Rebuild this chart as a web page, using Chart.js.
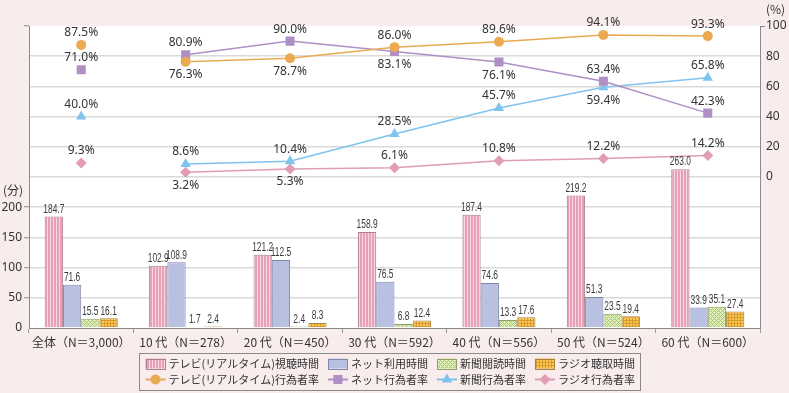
<!DOCTYPE html>
<html>
<head>
<meta charset="utf-8">
<script src="https://cdn.jsdelivr.net/npm/chart.js@4.4.0/dist/chart.umd.min.js"></script>
<style>
    html, body { margin: 0; padding: 0; background: #f8eced; }
</style>
</head>
<body>
<canvas id="media_chart" width="789" height="393"></canvas>
<script>
// 항목
var categories = ['全体（N＝3,000）', '10 代（N＝278）', '20 代（N＝450）', '30 代（N＝592）', '40 代（N＝556）', '50 代（N＝524）', '60 代（N＝600）'];

// 평균 이용시간 (분)
var tvTime = [184.7, 102.9, 121.2, 158.9, 187.4, 219.2, 263.0];
var netTime = [71.6, 108.9, 112.5, 76.5, 74.6, 51.3, 33.9];
var paperTime = [15.5, 1.7, 2.4, 6.8, 13.3, 23.5, 35.1];
var radioTime = [16.1, 2.4, 8.3, 12.4, 17.6, 19.4, 27.4];

// 행위자율 (%)
var tvRate = [87.5, 76.3, 78.7, 86.0, 89.6, 94.1, 93.3];
var netRate = [71.0, 80.9, 90.0, 83.1, 76.1, 63.4, 42.3];
var paperRate = [40.0, 8.6, 10.4, 28.5, 45.7, 59.4, 65.8];
var radioRate = [9.3, 3.2, 5.3, 6.1, 10.8, 12.2, 14.2];

// 눈금
var minuteTicks = [0, 50, 100, 150, 200];
var rateTicks = [0, 20, 40, 60, 80, 100];

var numFont = "'Noto Sans', 'Noto Sans CJK JP', sans-serif";
var jpFont = "'Noto Sans CJK JP', sans-serif";

function makePattern(size, draw) {
    var c = document.createElement('canvas');
    c.width = size;
    c.height = size;
    var g = c.getContext('2d');
    draw(g, size);
    return g.createPattern(c, 'repeat');
}

var tvFill = makePattern(3, function (g) {
    g.fillStyle = '#e7a0b5';
    g.fillRect(0, 0, 3, 3);
    g.fillStyle = '#f7d8e1';
    g.fillRect(2, 0, 1, 3);
});
var netFill = '#b9c1e2';
var paperFill = makePattern(4, function (g) {
    g.fillStyle = '#e0efbd';
    g.fillRect(0, 0, 4, 4);
    g.fillStyle = '#a9c86c';
    g.fillRect(0, 0, 1, 1); g.fillRect(1, 1, 1, 1); g.fillRect(2, 2, 1, 1); g.fillRect(3, 3, 1, 1);
    g.fillRect(3, 1, 1, 1); g.fillRect(1, 3, 1, 1);
});
var radioFill = makePattern(3, function (g) {
    g.fillStyle = '#f5c954';
    g.fillRect(0, 0, 3, 3);
    g.fillStyle = '#d9992e';
    g.fillRect(2, 0, 1, 3);
    g.fillRect(0, 2, 3, 1);
});

// 전체 점은 선으로 잇지 않음
var hideFirst = function (ctx) {
    return ctx.p0DataIndex === 0 ? 'rgba(0,0,0,0)' : undefined;
};

function barSet(label, data, fill, border) {
    return {
        type: 'bar', label: label, data: data, yAxisID: 'yMin', order: 1,
        backgroundColor: fill, borderColor: border, borderWidth: 1,
        categoryPercentage: 0.7, barPercentage: 1.0
    };
}

function lineSet(label, data, color, style, radius, side) {
    return {
        type: 'line', label: label, data: data, yAxisID: 'yRate', order: 0,
        borderColor: color, backgroundColor: color, borderWidth: 1.5, tension: 0,
        pointStyle: style, pointRadius: radius, pointBorderWidth: 0, pointBackgroundColor: color,
        segment: { borderColor: hideFirst },
        labelSide: side
    };
}

var datasets = [
    barSet('テレビ(リアルタイム)視聴時間', tvTime, tvFill, '#a98290'),
    barSet('ネット利用時間', netTime, netFill, '#8088a8'),
    barSet('新聞閲読時間', paperTime, paperFill, '#8ea266'),
    barSet('ラジオ聴取時間', radioTime, radioFill, '#a88440'),
    lineSet('テレビ(リアルタイム)行為者率', tvRate, '#e9aa52', 'circle', 5, ['u', 'd', 'd', 'u', 'u', 'u', 'u']),
    lineSet('ネット行為者率', netRate, '#af90c5', 'rect', 6.4, ['u', 'u', 'u', 'd', 'd', 'u', 'u']),
    lineSet('新聞行為者率', paperRate, '#7fc3ef', 'triangle', 6, ['u', 'u', 'u', 'u', 'u', 'd', 'u']),
    lineSet('ラジオ行為者率', radioRate, '#e19db5', 'rectRot', 5.5, ['u', 'd', 'd', 'u', 'u', 'u', 'u'])
];

var background = {
    id: 'background',
    beforeDraw: function (chart) {
        var ctx = chart.ctx, a = chart.chartArea;
        ctx.save();
        ctx.fillStyle = '#f8eced';
        ctx.fillRect(0, 0, chart.width, chart.height);
        ctx.fillStyle = '#ffffff';
        ctx.fillRect(a.left, a.top, a.right - a.left, a.bottom - a.top);
        ctx.restore();
    }
};

var valueLabels = {
    id: 'valueLabels',
    afterDatasetsDraw: function (chart) {
        var ctx = chart.ctx;
        ctx.save();
        ctx.textAlign = 'center';
        chart.data.datasets.forEach(function (ds, i) {
            var meta = chart.getDatasetMeta(i);
            meta.data.forEach(function (el, j) {
                var v = ds.data[j];
                if (ds.type === 'bar') {
                    // 좁은 글꼴 흉내
                    ctx.save();
                    ctx.font = "12px 'Liberation Sans', sans-serif";
                    ctx.fillStyle = '#3a3a3a';
                    ctx.textBaseline = 'bottom';
                    ctx.translate(el.x, el.y - 1);
                    ctx.scale(0.7, 1);
                    ctx.fillText(v.toFixed(1), 0, 0);
                    ctx.restore();
                } else {
                    ctx.font = '12px ' + numFont;
                    ctx.fillStyle = '#333333';
                    ctx.textBaseline = 'middle';
                    var dy = ds.labelSide[j] === 'u' ? -12 : 13;
                    ctx.fillText(v.toFixed(1) + '%', el.x, el.y + dy);
                }
            });
        });
        ctx.restore();
    }
};

var axisTitles = {
    id: 'axisTitles',
    afterDraw: function (chart) {
        var ctx = chart.ctx, s = chart.scales;
        ctx.save();
        ctx.font = '12px ' + jpFont;
        ctx.fillStyle = '#333333';
        ctx.textBaseline = 'middle';
        ctx.textAlign = 'right';
        ctx.fillText('(分)', s.yMin.right - 6, s.yMin.getPixelForValue(200) - 17);
        ctx.textAlign = 'left';
        ctx.fillText('(%)', s.yRate.left + 6, chart.chartArea.top - 17);
        ctx.restore();
    }
};

function drawMarker(ctx, style, x, y, r) {
    ctx.beginPath();
    if (style === 'circle') {
        ctx.arc(x, y, r, 0, Math.PI * 2);
    } else if (style === 'rect') {
        var h = r * Math.SQRT1_2;
        ctx.rect(x - h, y - h, h * 2, h * 2);
    } else if (style === 'triangle') {
        ctx.moveTo(x, y - r);
        ctx.lineTo(x + r * 0.866, y + r * 0.5);
        ctx.lineTo(x - r * 0.866, y + r * 0.5);
        ctx.closePath();
    } else {
        ctx.moveTo(x, y - r);
        ctx.lineTo(x + r, y);
        ctx.lineTo(x, y + r);
        ctx.lineTo(x - r, y);
        ctx.closePath();
    }
    ctx.fill();
}

// 범례 (4열 x 2행)
var legendBox = {
    id: 'legendBox',
    afterDraw: function (chart) {
        var ctx = chart.ctx, ds = chart.data.datasets;
        var symW = 20, gap = 3, space = 9, pad = 6;
        ctx.save();
        ctx.font = '11px ' + jpFont;
        var colW = [];
        var total = 0;
        for (var c = 0; c < 4; c++) {
            var tw = Math.max(ctx.measureText(ds[c].label).width, ctx.measureText(ds[c + 4].label).width);
            colW.push(symW + gap + tw);
            total += symW + gap + tw;
        }
        total += space * 3;
        var boxL = Math.round(chart.width / 2 - 5 - total / 2 - pad) + 0.5;
        var boxT = Math.round(chart.chartArea.bottom + 25) + 0.5;
        var boxW = Math.round(total + pad * 2);
        ctx.strokeStyle = '#8a8a8a';
        ctx.lineWidth = 1;
        ctx.strokeRect(boxL, boxT, boxW, 37);

        ctx.textBaseline = 'middle';
        ctx.textAlign = 'left';
        var x = boxL + pad;
        for (c = 0; c < 4; c++) {
            var b = ds[c], l = ds[c + 4];
            var y1 = boxT + 10, y2 = boxT + 26;
            ctx.fillStyle = b.backgroundColor;
            ctx.fillRect(x, y1 - 5, symW, 10);
            ctx.strokeStyle = b.borderColor;
            ctx.strokeRect(Math.round(x) + 0.5, Math.round(y1 - 5) + 0.5, symW - 1, 10);
            ctx.fillStyle = '#333333';
            ctx.fillText(b.label, x + symW + gap, y1);

            ctx.strokeStyle = l.borderColor;
            ctx.lineWidth = 2;
            ctx.beginPath();
            ctx.moveTo(x, y2);
            ctx.lineTo(x + symW, y2);
            ctx.stroke();
            ctx.lineWidth = 1;
            ctx.fillStyle = l.borderColor;
            drawMarker(ctx, l.pointStyle, x + symW / 2, y2, l.pointRadius);
            ctx.fillStyle = '#333333';
            ctx.fillText(l.label, x + symW + gap, y2);
            x += colW[c] + space;
        }
        ctx.restore();
    }
};

new Chart(document.getElementById('media_chart').getContext('2d'), {
    data: {
        labels: categories,
        datasets: datasets
    },
    options: {
        responsive: false,
        animation: false,
        layout: { padding: { top: 26, right: 0, bottom: 43, left: 0 } },
        plugins: {
            legend: { display: false },
            tooltip: { enabled: false }
        },
        scales: {
            x: {
                afterFit: function (scale) { scale.height = 22; },
                border: { color: '#8a8a8a', width: 1 },
                grid: { offset: true, drawOnChartArea: false, drawTicks: true, tickLength: 5, color: '#9a9a9a' },
                ticks: { color: '#333333', font: { family: jpFont, size: 12 }, padding: 2, maxRotation: 0, autoSkip: false }
            },
            yMin: {
                position: 'left',
                min: 0, max: 500,
                afterFit: function (scale) { scale.width = 29; },
                border: { color: '#8a8a8a', width: 1 },
                grid: {
                    lineWidth: 1.5,
                    tickLength: 5,
                    color: function (c) {
                        var v = c.tick.value;
                        return (v > 0 && v < 500) ? '#dadada' : 'rgba(0,0,0,0)';
                    },
                    tickColor: function (c) {
                        var v = c.tick.value;
                        return (minuteTicks.indexOf(v) > 0 || v === 500) ? '#8a8a8a' : 'rgba(0,0,0,0)';
                    },
                    tickWidth: 1
                },
                ticks: {
                    stepSize: 50,
                    padding: 2,
                    color: '#333333',
                    font: { family: numFont, size: 12 },
                    callback: function (v) { return minuteTicks.indexOf(v) >= 0 ? v : ''; }
                }
            },
            yRate: {
                position: 'right',
                min: -100, max: 100,
                afterFit: function (scale) { scale.width = 29; },
                border: { color: '#8a8a8a', width: 1 },
                grid: {
                    drawOnChartArea: false,
                    tickLength: 5,
                    tickColor: function (c) {
                        return c.tick.value === 100 ? '#8a8a8a' : 'rgba(0,0,0,0)';
                    }
                },
                ticks: {
                    stepSize: 20,
                    padding: 1,
                    color: '#333333',
                    font: { family: numFont, size: 12 },
                    callback: function (v) { return rateTicks.indexOf(v) >= 0 ? v : ''; }
                }
            }
        }
    },
    plugins: [background, valueLabels, axisTitles, legendBox]
});
</script>
</body>
</html>
